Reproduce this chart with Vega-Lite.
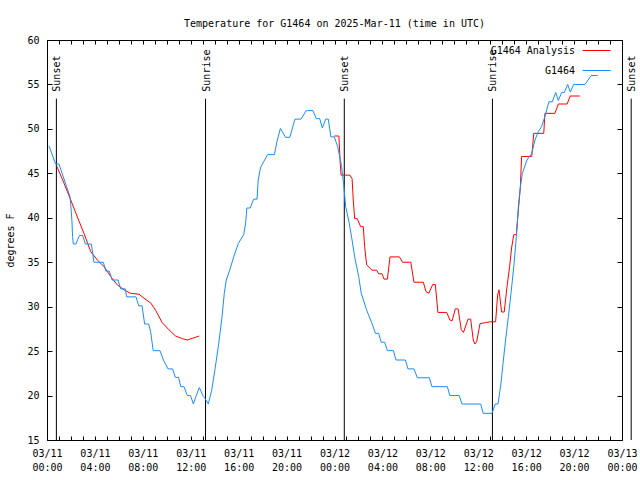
{
  "$schema": "https://vega.github.io/schema/vega-lite/v6.json",
  "width": 575,
  "height": 400,
  "autosize": "none",
  "padding": {"left": 47, "top": 40, "right": 18, "bottom": 40},
  "background": "white",
  "config": {
    "view": {"stroke": "black", "strokeWidth": 1},
    "font": "DejaVu Sans Mono",
    "axis": {
      "domain": false, "grid": false,
      "labelFont": "DejaVu Sans Mono", "labelFontSize": 10, "labelColor": "black",
      "tickColor": "black", "tickWidth": 1,
      "titleFont": "DejaVu Sans Mono", "titleFontSize": 10, "titleFontWeight": "normal", "titleColor": "black"
    }
  },
  "title": {
    "text": "Temperature for G1464 on 2025-Mar-11 (time in UTC)",
    "font": "DejaVu Sans Mono", "fontSize": 10, "fontWeight": "normal", "color": "black",
    "anchor": "middle", "offset": 6
  },
  "datasets": {
    "temps": [
      {"series": "G1464 Analysis", "seg": "r1", "time": "2025-03-11T00:49:00Z", "temp": 45.8},
      {"series": "G1464 Analysis", "seg": "r1", "time": "2025-03-11T01:25:00Z", "temp": 43.9},
      {"series": "G1464 Analysis", "seg": "r1", "time": "2025-03-11T01:59:00Z", "temp": 42.0},
      {"series": "G1464 Analysis", "seg": "r1", "time": "2025-03-11T02:32:00Z", "temp": 40.1},
      {"series": "G1464 Analysis", "seg": "r1", "time": "2025-03-11T03:05:00Z", "temp": 38.25},
      {"series": "G1464 Analysis", "seg": "r1", "time": "2025-03-11T03:39:00Z", "temp": 36.2},
      {"series": "G1464 Analysis", "seg": "r1", "time": "2025-03-11T04:12:00Z", "temp": 35.25},
      {"series": "G1464 Analysis", "seg": "r1", "time": "2025-03-11T04:46:00Z", "temp": 34.5},
      {"series": "G1464 Analysis", "seg": "r1", "time": "2025-03-11T05:19:00Z", "temp": 33.4},
      {"series": "G1464 Analysis", "seg": "r1", "time": "2025-03-11T05:52:00Z", "temp": 32.45},
      {"series": "G1464 Analysis", "seg": "r1", "time": "2025-03-11T06:26:00Z", "temp": 31.9},
      {"series": "G1464 Analysis", "seg": "r1", "time": "2025-03-11T06:59:00Z", "temp": 31.5},
      {"series": "G1464 Analysis", "seg": "r1", "time": "2025-03-11T07:41:00Z", "temp": 31.4},
      {"series": "G1464 Analysis", "seg": "r1", "time": "2025-03-11T08:06:00Z", "temp": 30.95},
      {"series": "G1464 Analysis", "seg": "r1", "time": "2025-03-11T08:40:00Z", "temp": 30.4},
      {"series": "G1464 Analysis", "seg": "r1", "time": "2025-03-11T09:04:00Z", "temp": 29.6},
      {"series": "G1464 Analysis", "seg": "r1", "time": "2025-03-11T09:37:00Z", "temp": 28.2},
      {"series": "G1464 Analysis", "seg": "r1", "time": "2025-03-11T10:11:00Z", "temp": 27.4},
      {"series": "G1464 Analysis", "seg": "r1", "time": "2025-03-11T10:44:00Z", "temp": 26.7},
      {"series": "G1464 Analysis", "seg": "r1", "time": "2025-03-11T11:18:00Z", "temp": 26.4},
      {"series": "G1464 Analysis", "seg": "r1", "time": "2025-03-11T11:43:00Z", "temp": 26.25},
      {"series": "G1464 Analysis", "seg": "r1", "time": "2025-03-11T12:16:00Z", "temp": 26.5},
      {"series": "G1464 Analysis", "seg": "r1", "time": "2025-03-11T12:43:00Z", "temp": 26.7},
      {"series": "G1464 Analysis", "seg": "r2", "time": "2025-03-11T23:59:00Z", "temp": 49.2},
      {"series": "G1464 Analysis", "seg": "r2", "time": "2025-03-12T00:22:00Z", "temp": 49.2},
      {"series": "G1464 Analysis", "seg": "r2", "time": "2025-03-12T00:29:00Z", "temp": 46.0},
      {"series": "G1464 Analysis", "seg": "r2", "time": "2025-03-12T00:33:00Z", "temp": 44.8},
      {"series": "G1464 Analysis", "seg": "r2", "time": "2025-03-12T01:17:00Z", "temp": 44.8},
      {"series": "G1464 Analysis", "seg": "r2", "time": "2025-03-12T01:28:00Z", "temp": 44.4},
      {"series": "G1464 Analysis", "seg": "r2", "time": "2025-03-12T01:34:00Z", "temp": 42.0},
      {"series": "G1464 Analysis", "seg": "r2", "time": "2025-03-12T01:41:00Z", "temp": 39.9},
      {"series": "G1464 Analysis", "seg": "r2", "time": "2025-03-12T01:54:00Z", "temp": 39.9},
      {"series": "G1464 Analysis", "seg": "r2", "time": "2025-03-12T02:11:00Z", "temp": 39.0},
      {"series": "G1464 Analysis", "seg": "r2", "time": "2025-03-12T02:24:00Z", "temp": 39.0},
      {"series": "G1464 Analysis", "seg": "r2", "time": "2025-03-12T02:31:00Z", "temp": 36.75},
      {"series": "G1464 Analysis", "seg": "r2", "time": "2025-03-12T02:41:00Z", "temp": 34.7},
      {"series": "G1464 Analysis", "seg": "r2", "time": "2025-03-12T03:08:00Z", "temp": 34.1},
      {"series": "G1464 Analysis", "seg": "r2", "time": "2025-03-12T03:31:00Z", "temp": 34.1},
      {"series": "G1464 Analysis", "seg": "r2", "time": "2025-03-12T03:41:00Z", "temp": 33.7},
      {"series": "G1464 Analysis", "seg": "r2", "time": "2025-03-12T03:58:00Z", "temp": 33.7},
      {"series": "G1464 Analysis", "seg": "r2", "time": "2025-03-12T04:08:00Z", "temp": 33.1},
      {"series": "G1464 Analysis", "seg": "r2", "time": "2025-03-12T04:25:00Z", "temp": 33.1},
      {"series": "G1464 Analysis", "seg": "r2", "time": "2025-03-12T04:38:00Z", "temp": 35.6},
      {"series": "G1464 Analysis", "seg": "r2", "time": "2025-03-12T05:25:00Z", "temp": 35.6},
      {"series": "G1464 Analysis", "seg": "r2", "time": "2025-03-12T05:41:00Z", "temp": 35.0},
      {"series": "G1464 Analysis", "seg": "r2", "time": "2025-03-12T06:22:00Z", "temp": 35.0},
      {"series": "G1464 Analysis", "seg": "r2", "time": "2025-03-12T06:38:00Z", "temp": 32.75},
      {"series": "G1464 Analysis", "seg": "r2", "time": "2025-03-12T07:25:00Z", "temp": 32.75},
      {"series": "G1464 Analysis", "seg": "r2", "time": "2025-03-12T07:38:00Z", "temp": 31.7},
      {"series": "G1464 Analysis", "seg": "r2", "time": "2025-03-12T07:52:00Z", "temp": 31.5},
      {"series": "G1464 Analysis", "seg": "r2", "time": "2025-03-12T08:12:00Z", "temp": 32.5},
      {"series": "G1464 Analysis", "seg": "r2", "time": "2025-03-12T08:25:00Z", "temp": 32.5},
      {"series": "G1464 Analysis", "seg": "r2", "time": "2025-03-12T08:38:00Z", "temp": 29.35},
      {"series": "G1464 Analysis", "seg": "r2", "time": "2025-03-12T09:22:00Z", "temp": 29.35},
      {"series": "G1464 Analysis", "seg": "r2", "time": "2025-03-12T09:38:00Z", "temp": 28.5},
      {"series": "G1464 Analysis", "seg": "r2", "time": "2025-03-12T09:49:00Z", "temp": 28.4},
      {"series": "G1464 Analysis", "seg": "r2", "time": "2025-03-12T10:05:00Z", "temp": 29.75},
      {"series": "G1464 Analysis", "seg": "r2", "time": "2025-03-12T10:19:00Z", "temp": 29.75},
      {"series": "G1464 Analysis", "seg": "r2", "time": "2025-03-12T10:35:00Z", "temp": 27.4},
      {"series": "G1464 Analysis", "seg": "r2", "time": "2025-03-12T10:46:00Z", "temp": 27.1},
      {"series": "G1464 Analysis", "seg": "r2", "time": "2025-03-12T11:09:00Z", "temp": 28.6},
      {"series": "G1464 Analysis", "seg": "r2", "time": "2025-03-12T11:22:00Z", "temp": 28.6},
      {"series": "G1464 Analysis", "seg": "r2", "time": "2025-03-12T11:35:00Z", "temp": 26.25},
      {"series": "G1464 Analysis", "seg": "r2", "time": "2025-03-12T11:43:00Z", "temp": 25.8},
      {"series": "G1464 Analysis", "seg": "r2", "time": "2025-03-12T11:52:00Z", "temp": 26.05},
      {"series": "G1464 Analysis", "seg": "r2", "time": "2025-03-12T12:09:00Z", "temp": 28.1},
      {"series": "G1464 Analysis", "seg": "r2", "time": "2025-03-12T12:36:00Z", "temp": 28.2},
      {"series": "G1464 Analysis", "seg": "r2", "time": "2025-03-12T12:59:00Z", "temp": 28.3},
      {"series": "G1464 Analysis", "seg": "r2", "time": "2025-03-12T13:27:00Z", "temp": 28.3},
      {"series": "G1464 Analysis", "seg": "r2", "time": "2025-03-12T13:37:00Z", "temp": 31.3},
      {"series": "G1464 Analysis", "seg": "r2", "time": "2025-03-12T13:44:00Z", "temp": 31.9},
      {"series": "G1464 Analysis", "seg": "r2", "time": "2025-03-12T13:57:00Z", "temp": 29.4},
      {"series": "G1464 Analysis", "seg": "r2", "time": "2025-03-12T14:10:00Z", "temp": 29.4},
      {"series": "G1464 Analysis", "seg": "r2", "time": "2025-03-12T14:24:00Z", "temp": 32.25},
      {"series": "G1464 Analysis", "seg": "r2", "time": "2025-03-12T14:37:00Z", "temp": 34.5},
      {"series": "G1464 Analysis", "seg": "r2", "time": "2025-03-12T14:47:00Z", "temp": 36.6},
      {"series": "G1464 Analysis", "seg": "r2", "time": "2025-03-12T14:58:00Z", "temp": 38.1},
      {"series": "G1464 Analysis", "seg": "r2", "time": "2025-03-12T15:11:00Z", "temp": 38.1},
      {"series": "G1464 Analysis", "seg": "r2", "time": "2025-03-12T15:21:00Z", "temp": 40.9},
      {"series": "G1464 Analysis", "seg": "r2", "time": "2025-03-12T15:31:00Z", "temp": 43.5},
      {"series": "G1464 Analysis", "seg": "r2", "time": "2025-03-12T15:37:00Z", "temp": 46.9},
      {"series": "G1464 Analysis", "seg": "r2", "time": "2025-03-12T16:28:00Z", "temp": 46.9},
      {"series": "G1464 Analysis", "seg": "r2", "time": "2025-03-12T16:38:00Z", "temp": 49.5},
      {"series": "G1464 Analysis", "seg": "r2", "time": "2025-03-12T17:28:00Z", "temp": 49.5},
      {"series": "G1464 Analysis", "seg": "r2", "time": "2025-03-12T17:34:00Z", "temp": 51.75},
      {"series": "G1464 Analysis", "seg": "r2", "time": "2025-03-12T18:24:00Z", "temp": 51.75},
      {"series": "G1464 Analysis", "seg": "r2", "time": "2025-03-12T18:41:00Z", "temp": 52.8},
      {"series": "G1464 Analysis", "seg": "r2", "time": "2025-03-12T19:25:00Z", "temp": 52.8},
      {"series": "G1464 Analysis", "seg": "r2", "time": "2025-03-12T19:41:00Z", "temp": 53.7},
      {"series": "G1464 Analysis", "seg": "r2", "time": "2025-03-12T20:28:00Z", "temp": 53.7},
      {"series": "G1464", "seg": "b", "time": "2025-03-11T00:10:00Z", "temp": 48.1},
      {"series": "G1464", "seg": "b", "time": "2025-03-11T00:43:00Z", "temp": 46.05},
      {"series": "G1464", "seg": "b", "time": "2025-03-11T01:00:00Z", "temp": 46.05},
      {"series": "G1464", "seg": "b", "time": "2025-03-11T01:38:00Z", "temp": 43.5},
      {"series": "G1464", "seg": "b", "time": "2025-03-11T01:55:00Z", "temp": 42.4},
      {"series": "G1464", "seg": "b", "time": "2025-03-11T02:00:00Z", "temp": 41.2},
      {"series": "G1464", "seg": "b", "time": "2025-03-11T02:05:00Z", "temp": 39.6},
      {"series": "G1464", "seg": "b", "time": "2025-03-11T02:08:00Z", "temp": 37.9},
      {"series": "G1464", "seg": "b", "time": "2025-03-11T02:12:00Z", "temp": 37.05},
      {"series": "G1464", "seg": "b", "time": "2025-03-11T02:25:00Z", "temp": 37.05},
      {"series": "G1464", "seg": "b", "time": "2025-03-11T02:42:00Z", "temp": 38.0},
      {"series": "G1464", "seg": "b", "time": "2025-03-11T02:59:00Z", "temp": 38.0},
      {"series": "G1464", "seg": "b", "time": "2025-03-11T03:12:00Z", "temp": 37.05},
      {"series": "G1464", "seg": "b", "time": "2025-03-11T03:42:00Z", "temp": 37.05},
      {"series": "G1464", "seg": "b", "time": "2025-03-11T03:49:00Z", "temp": 36.0},
      {"series": "G1464", "seg": "b", "time": "2025-03-11T03:55:00Z", "temp": 35.0},
      {"series": "G1464", "seg": "b", "time": "2025-03-11T04:42:00Z", "temp": 35.0},
      {"series": "G1464", "seg": "b", "time": "2025-03-11T04:55:00Z", "temp": 34.0},
      {"series": "G1464", "seg": "b", "time": "2025-03-11T05:12:00Z", "temp": 34.0},
      {"series": "G1464", "seg": "b", "time": "2025-03-11T05:26:00Z", "temp": 33.0},
      {"series": "G1464", "seg": "b", "time": "2025-03-11T05:56:00Z", "temp": 33.0},
      {"series": "G1464", "seg": "b", "time": "2025-03-11T06:09:00Z", "temp": 32.0},
      {"series": "G1464", "seg": "b", "time": "2025-03-11T06:32:00Z", "temp": 32.0},
      {"series": "G1464", "seg": "b", "time": "2025-03-11T06:39:00Z", "temp": 31.1},
      {"series": "G1464", "seg": "b", "time": "2025-03-11T07:26:00Z", "temp": 31.1},
      {"series": "G1464", "seg": "b", "time": "2025-03-11T07:39:00Z", "temp": 30.1},
      {"series": "G1464", "seg": "b", "time": "2025-03-11T07:56:00Z", "temp": 30.1},
      {"series": "G1464", "seg": "b", "time": "2025-03-11T08:09:00Z", "temp": 28.05},
      {"series": "G1464", "seg": "b", "time": "2025-03-11T08:29:00Z", "temp": 28.05},
      {"series": "G1464", "seg": "b", "time": "2025-03-11T08:39:00Z", "temp": 27.2},
      {"series": "G1464", "seg": "b", "time": "2025-03-11T08:52:00Z", "temp": 25.05},
      {"series": "G1464", "seg": "b", "time": "2025-03-11T09:26:00Z", "temp": 25.05},
      {"series": "G1464", "seg": "b", "time": "2025-03-11T09:43:00Z", "temp": 24.0},
      {"series": "G1464", "seg": "b", "time": "2025-03-11T10:06:00Z", "temp": 23.0},
      {"series": "G1464", "seg": "b", "time": "2025-03-11T10:29:00Z", "temp": 23.0},
      {"series": "G1464", "seg": "b", "time": "2025-03-11T10:43:00Z", "temp": 22.05},
      {"series": "G1464", "seg": "b", "time": "2025-03-11T10:59:00Z", "temp": 22.05},
      {"series": "G1464", "seg": "b", "time": "2025-03-11T11:10:00Z", "temp": 21.0},
      {"series": "G1464", "seg": "b", "time": "2025-03-11T11:26:00Z", "temp": 21.0},
      {"series": "G1464", "seg": "b", "time": "2025-03-11T11:43:00Z", "temp": 20.0},
      {"series": "G1464", "seg": "b", "time": "2025-03-11T11:59:00Z", "temp": 20.0},
      {"series": "G1464", "seg": "b", "time": "2025-03-11T12:13:00Z", "temp": 19.05},
      {"series": "G1464", "seg": "b", "time": "2025-03-11T12:26:00Z", "temp": 19.9},
      {"series": "G1464", "seg": "b", "time": "2025-03-11T12:43:00Z", "temp": 20.9},
      {"series": "G1464", "seg": "b", "time": "2025-03-11T13:03:00Z", "temp": 19.9},
      {"series": "G1464", "seg": "b", "time": "2025-03-11T13:11:00Z", "temp": 19.7},
      {"series": "G1464", "seg": "b", "time": "2025-03-11T13:28:00Z", "temp": 19.05},
      {"series": "G1464", "seg": "b", "time": "2025-03-11T13:45:00Z", "temp": 20.6},
      {"series": "G1464", "seg": "b", "time": "2025-03-11T14:01:00Z", "temp": 22.9},
      {"series": "G1464", "seg": "b", "time": "2025-03-11T14:18:00Z", "temp": 25.5},
      {"series": "G1464", "seg": "b", "time": "2025-03-11T14:35:00Z", "temp": 28.5},
      {"series": "G1464", "seg": "b", "time": "2025-03-11T14:48:00Z", "temp": 31.5},
      {"series": "G1464", "seg": "b", "time": "2025-03-11T14:58:00Z", "temp": 33.0},
      {"series": "G1464", "seg": "b", "time": "2025-03-11T15:15:00Z", "temp": 34.1},
      {"series": "G1464", "seg": "b", "time": "2025-03-11T15:35:00Z", "temp": 35.6},
      {"series": "G1464", "seg": "b", "time": "2025-03-11T15:58:00Z", "temp": 37.1},
      {"series": "G1464", "seg": "b", "time": "2025-03-11T16:25:00Z", "temp": 38.1},
      {"series": "G1464", "seg": "b", "time": "2025-03-11T16:35:00Z", "temp": 39.4},
      {"series": "G1464", "seg": "b", "time": "2025-03-11T16:41:00Z", "temp": 41.1},
      {"series": "G1464", "seg": "b", "time": "2025-03-11T16:58:00Z", "temp": 41.1},
      {"series": "G1464", "seg": "b", "time": "2025-03-11T17:15:00Z", "temp": 42.1},
      {"series": "G1464", "seg": "b", "time": "2025-03-11T17:32:00Z", "temp": 42.1},
      {"series": "G1464", "seg": "b", "time": "2025-03-11T17:38:00Z", "temp": 44.25},
      {"series": "G1464", "seg": "b", "time": "2025-03-11T17:49:00Z", "temp": 45.6},
      {"series": "G1464", "seg": "b", "time": "2025-03-11T18:05:00Z", "temp": 46.3},
      {"series": "G1464", "seg": "b", "time": "2025-03-11T18:25:00Z", "temp": 47.1},
      {"series": "G1464", "seg": "b", "time": "2025-03-11T18:59:00Z", "temp": 47.1},
      {"series": "G1464", "seg": "b", "time": "2025-03-11T19:12:00Z", "temp": 48.6},
      {"series": "G1464", "seg": "b", "time": "2025-03-11T19:29:00Z", "temp": 50.05},
      {"series": "G1464", "seg": "b", "time": "2025-03-11T19:55:00Z", "temp": 49.05},
      {"series": "G1464", "seg": "b", "time": "2025-03-11T20:16:00Z", "temp": 49.05},
      {"series": "G1464", "seg": "b", "time": "2025-03-11T20:42:00Z", "temp": 51.1},
      {"series": "G1464", "seg": "b", "time": "2025-03-11T21:12:00Z", "temp": 51.1},
      {"series": "G1464", "seg": "b", "time": "2025-03-11T21:38:00Z", "temp": 52.05},
      {"series": "G1464", "seg": "b", "time": "2025-03-11T22:12:00Z", "temp": 52.05},
      {"series": "G1464", "seg": "b", "time": "2025-03-11T22:29:00Z", "temp": 51.15},
      {"series": "G1464", "seg": "b", "time": "2025-03-11T22:46:00Z", "temp": 51.15},
      {"series": "G1464", "seg": "b", "time": "2025-03-11T22:59:00Z", "temp": 50.1},
      {"series": "G1464", "seg": "b", "time": "2025-03-11T23:16:00Z", "temp": 51.1},
      {"series": "G1464", "seg": "b", "time": "2025-03-11T23:29:00Z", "temp": 51.1},
      {"series": "G1464", "seg": "b", "time": "2025-03-11T23:42:00Z", "temp": 49.1},
      {"series": "G1464", "seg": "b", "time": "2025-03-11T23:59:00Z", "temp": 49.1},
      {"series": "G1464", "seg": "b", "time": "2025-03-12T00:16:00Z", "temp": 48.0},
      {"series": "G1464", "seg": "b", "time": "2025-03-12T00:36:00Z", "temp": 45.75},
      {"series": "G1464", "seg": "b", "time": "2025-03-12T00:46:00Z", "temp": 43.7},
      {"series": "G1464", "seg": "b", "time": "2025-03-12T00:56:00Z", "temp": 41.25},
      {"series": "G1464", "seg": "b", "time": "2025-03-12T01:13:00Z", "temp": 39.5},
      {"series": "G1464", "seg": "b", "time": "2025-03-12T01:28:00Z", "temp": 37.5},
      {"series": "G1464", "seg": "b", "time": "2025-03-12T01:41:00Z", "temp": 35.6},
      {"series": "G1464", "seg": "b", "time": "2025-03-12T02:01:00Z", "temp": 33.4},
      {"series": "G1464", "seg": "b", "time": "2025-03-12T02:14:00Z", "temp": 31.5},
      {"series": "G1464", "seg": "b", "time": "2025-03-12T02:41:00Z", "temp": 29.6},
      {"series": "G1464", "seg": "b", "time": "2025-03-12T03:08:00Z", "temp": 28.1},
      {"series": "G1464", "seg": "b", "time": "2025-03-12T03:25:00Z", "temp": 27.0},
      {"series": "G1464", "seg": "b", "time": "2025-03-12T03:41:00Z", "temp": 27.0},
      {"series": "G1464", "seg": "b", "time": "2025-03-12T03:54:00Z", "temp": 26.0},
      {"series": "G1464", "seg": "b", "time": "2025-03-12T04:11:00Z", "temp": 26.0},
      {"series": "G1464", "seg": "b", "time": "2025-03-12T04:25:00Z", "temp": 25.05},
      {"series": "G1464", "seg": "b", "time": "2025-03-12T04:55:00Z", "temp": 25.05},
      {"series": "G1464", "seg": "b", "time": "2025-03-12T05:08:00Z", "temp": 24.0},
      {"series": "G1464", "seg": "b", "time": "2025-03-12T05:55:00Z", "temp": 24.0},
      {"series": "G1464", "seg": "b", "time": "2025-03-12T06:08:00Z", "temp": 23.0},
      {"series": "G1464", "seg": "b", "time": "2025-03-12T06:38:00Z", "temp": 23.0},
      {"series": "G1464", "seg": "b", "time": "2025-03-12T06:55:00Z", "temp": 22.0},
      {"series": "G1464", "seg": "b", "time": "2025-03-12T07:55:00Z", "temp": 22.0},
      {"series": "G1464", "seg": "b", "time": "2025-03-12T08:08:00Z", "temp": 21.0},
      {"series": "G1464", "seg": "b", "time": "2025-03-12T09:25:00Z", "temp": 21.0},
      {"series": "G1464", "seg": "b", "time": "2025-03-12T09:38:00Z", "temp": 20.0},
      {"series": "G1464", "seg": "b", "time": "2025-03-12T10:25:00Z", "temp": 20.0},
      {"series": "G1464", "seg": "b", "time": "2025-03-12T10:38:00Z", "temp": 19.05},
      {"series": "G1464", "seg": "b", "time": "2025-03-12T12:12:00Z", "temp": 19.05},
      {"series": "G1464", "seg": "b", "time": "2025-03-12T12:25:00Z", "temp": 18.0},
      {"series": "G1464", "seg": "b", "time": "2025-03-12T13:09:00Z", "temp": 18.0},
      {"series": "G1464", "seg": "b", "time": "2025-03-12T13:25:00Z", "temp": 19.05},
      {"series": "G1464", "seg": "b", "time": "2025-03-12T13:39:00Z", "temp": 19.05},
      {"series": "G1464", "seg": "b", "time": "2025-03-12T13:54:00Z", "temp": 21.4},
      {"series": "G1464", "seg": "b", "time": "2025-03-12T14:04:00Z", "temp": 23.6},
      {"series": "G1464", "seg": "b", "time": "2025-03-12T14:17:00Z", "temp": 26.25},
      {"series": "G1464", "seg": "b", "time": "2025-03-12T14:31:00Z", "temp": 28.9},
      {"series": "G1464", "seg": "b", "time": "2025-03-12T14:44:00Z", "temp": 31.5},
      {"series": "G1464", "seg": "b", "time": "2025-03-12T14:58:00Z", "temp": 34.5},
      {"series": "G1464", "seg": "b", "time": "2025-03-12T15:11:00Z", "temp": 37.9},
      {"series": "G1464", "seg": "b", "time": "2025-03-12T15:21:00Z", "temp": 41.25},
      {"series": "G1464", "seg": "b", "time": "2025-03-12T15:31:00Z", "temp": 43.5},
      {"series": "G1464", "seg": "b", "time": "2025-03-12T15:41:00Z", "temp": 45.0},
      {"series": "G1464", "seg": "b", "time": "2025-03-12T16:04:00Z", "temp": 46.5},
      {"series": "G1464", "seg": "b", "time": "2025-03-12T16:28:00Z", "temp": 47.25},
      {"series": "G1464", "seg": "b", "time": "2025-03-12T16:44:00Z", "temp": 48.75},
      {"series": "G1464", "seg": "b", "time": "2025-03-12T17:01:00Z", "temp": 49.7},
      {"series": "G1464", "seg": "b", "time": "2025-03-12T17:17:00Z", "temp": 50.25},
      {"series": "G1464", "seg": "b", "time": "2025-03-12T17:34:00Z", "temp": 51.4},
      {"series": "G1464", "seg": "b", "time": "2025-03-12T17:54:00Z", "temp": 53.05},
      {"series": "G1464", "seg": "b", "time": "2025-03-12T18:11:00Z", "temp": 53.05},
      {"series": "G1464", "seg": "b", "time": "2025-03-12T18:28:00Z", "temp": 54.1},
      {"series": "G1464", "seg": "b", "time": "2025-03-12T18:41:00Z", "temp": 53.2},
      {"series": "G1464", "seg": "b", "time": "2025-03-12T18:58:00Z", "temp": 54.1},
      {"series": "G1464", "seg": "b", "time": "2025-03-12T19:11:00Z", "temp": 54.1},
      {"series": "G1464", "seg": "b", "time": "2025-03-12T19:28:00Z", "temp": 55.0},
      {"series": "G1464", "seg": "b", "time": "2025-03-12T19:41:00Z", "temp": 54.15},
      {"series": "G1464", "seg": "b", "time": "2025-03-12T19:58:00Z", "temp": 55.0},
      {"series": "G1464", "seg": "b", "time": "2025-03-12T20:55:00Z", "temp": 55.0},
      {"series": "G1464", "seg": "b", "time": "2025-03-12T21:25:00Z", "temp": 56.0},
      {"series": "G1464", "seg": "b", "time": "2025-03-12T21:58:00Z", "temp": 56.0}
    ],
    "sun": [
      {"time": "2025-03-11T00:47:00Z", "event": "Sunset"},
      {"time": "2025-03-11T13:14:00Z", "event": "Sunrise"},
      {"time": "2025-03-12T00:49:00Z", "event": "Sunset"},
      {"time": "2025-03-12T13:11:00Z", "event": "Sunrise"},
      {"time": "2025-03-13T00:46:00Z", "event": "Sunset"}
    ]
  },
  "layer": [
    {
      "data": {"name": "sun"},
      "mark": {"type": "rule", "color": "black", "strokeWidth": 1},
      "encoding": {
        "x": {
          "field": "time", "type": "temporal",
          "scale": {"type": "utc", "domain": [1741651200000, 1741824000000]},
          "axis": {
            "orient": "bottom", "title": null,
            "values": [1741651200000, 1741654800000, 1741658400000, 1741662000000, 1741665600000, 1741669200000, 1741672800000, 1741676400000, 1741680000000, 1741683600000, 1741687200000, 1741690800000, 1741694400000, 1741698000000, 1741701600000, 1741705200000, 1741708800000, 1741712400000, 1741716000000, 1741719600000, 1741723200000, 1741726800000, 1741730400000, 1741734000000, 1741737600000, 1741741200000, 1741744800000, 1741748400000, 1741752000000, 1741755600000, 1741759200000, 1741762800000, 1741766400000, 1741770000000, 1741773600000, 1741777200000, 1741780800000, 1741784400000, 1741788000000, 1741791600000, 1741795200000, 1741798800000, 1741802400000, 1741806000000, 1741809600000, 1741813200000, 1741816800000, 1741820400000, 1741824000000],
            "tickSize": -4,
            "labelExpr": "utchours(datum.value) % 4 === 0 ? [utcFormat(datum.value, '%m/%d'), utcFormat(datum.value, '%H:%M')] : ''",
            "labelAlign": "center", "labelBaseline": "top", "labelLineHeight": 14,
            "labelPadding": 12, "labelFlush": false, "labelOverlap": false
          }
        },
        "y": {"datum": 15, "type": "quantitative", "scale": {"domain": [15, 60], "nice": false, "zero": false},
          "axis": {
            "orient": "left", "values": [15, 20, 25, 30, 35, 40, 45, 50, 55, 60], "tickSize": -5,
            "labelPadding": 13, "labelOverlap": false, "labelFlush": false,
            "title": "degrees F", "titleX": -37, "titleY": 200, "titleAngle": 270,
            "titleAlign": "center", "titleBaseline": "middle"
          }},
        "y2": {"datum": 53.4}
      }
    },
    {
      "data": {"name": "sun"},
      "mark": {"type": "text", "angle": 270, "align": "left", "baseline": "middle", "dx": 7, "dy": 1, "font": "DejaVu Sans Mono", "fontSize": 10, "color": "black"},
      "encoding": {
        "x": {"field": "time", "type": "temporal", "axis": null},
        "y": {"datum": 53.4, "type": "quantitative", "axis": null},
        "text": {"field": "event"}
      }
    },
    {
      "data": {"name": "temps"},
      "mark": {"type": "line", "strokeWidth": 1},
      "encoding": {
        "x": {
          "field": "time", "type": "temporal",
          "axis": {
            "orient": "top", "title": null, "labels": false,
            "values": [1741651200000, 1741654800000, 1741658400000, 1741662000000, 1741665600000, 1741669200000, 1741672800000, 1741676400000, 1741680000000, 1741683600000, 1741687200000, 1741690800000, 1741694400000, 1741698000000, 1741701600000, 1741705200000, 1741708800000, 1741712400000, 1741716000000, 1741719600000, 1741723200000, 1741726800000, 1741730400000, 1741734000000, 1741737600000, 1741741200000, 1741744800000, 1741748400000, 1741752000000, 1741755600000, 1741759200000, 1741762800000, 1741766400000, 1741770000000, 1741773600000, 1741777200000, 1741780800000, 1741784400000, 1741788000000, 1741791600000, 1741795200000, 1741798800000, 1741802400000, 1741806000000, 1741809600000, 1741813200000, 1741816800000, 1741820400000, 1741824000000],
            "tickSize": -4
          }
        },
        "y": {
          "field": "temp", "type": "quantitative",
          "axis": {"orient": "right", "title": null, "labels": false, "values": [15, 20, 25, 30, 35, 40, 45, 50, 55, 60], "tickSize": -5}
        },
        "color": {
          "field": "series", "type": "nominal",
          "scale": {"domain": ["G1464 Analysis", "G1464"], "range": ["#ff0000", "#1a8cff"]},
          "legend": {
            "orient": "none", "legendX": 535, "legendY": -4, "title": null,
            "symbolType": "stroke", "symbolSize": 784, "symbolStrokeWidth": 1,
            "labelFont": "DejaVu Sans Mono", "labelFontSize": 10, "labelColor": "black",
            "labelAlign": "right", "labelOffset": -36, "padding": 0, "rowPadding": -22
          }
        },
        "detail": {"field": "seg", "type": "nominal"}
      }
    }
  ],
  "resolve": {"axis": {"x": "independent", "y": "independent"}}
}
